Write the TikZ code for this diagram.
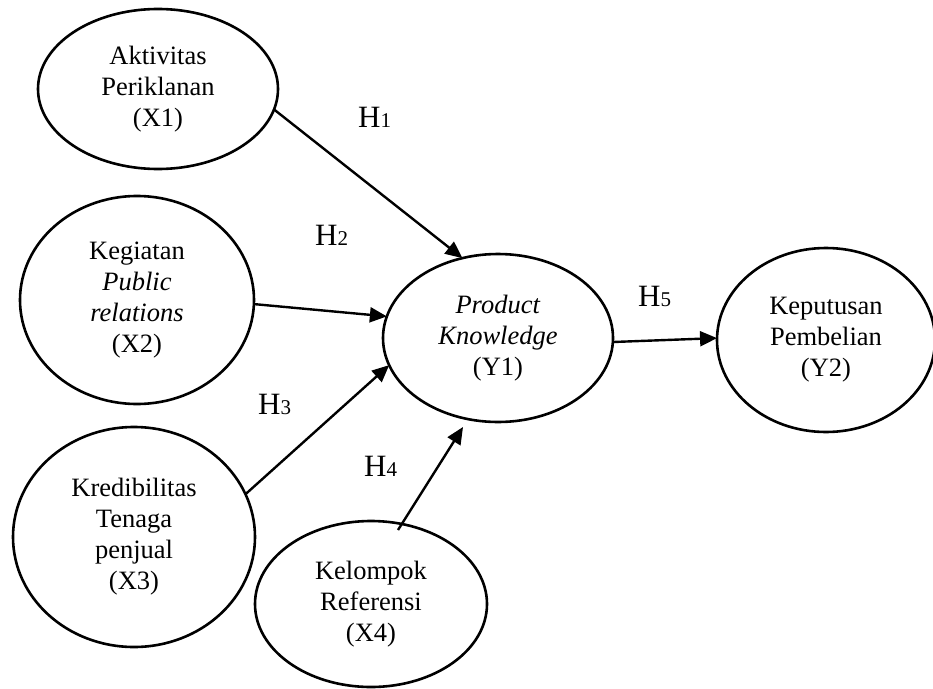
\documentclass[tikz,border=0pt]{standalone}
\usepackage{fontspec}
\setmainfont{Liberation Serif}
\usetikzlibrary{arrows.meta,shapes.geometric}
\begin{document}
\begin{tikzpicture}[x=1pt,y=-1pt,
  var/.style={draw, ellipse, line width=2.6pt, inner sep=0pt, outer sep=0pt,
    align=center, font=\fontsize{26.5}{31}\selectfont},
  link/.style={line width=2.4pt, -{Triangle[length=17pt,width=15pt]}},
  hyp/.style={anchor=base west, inner sep=0pt, font=\fontsize{31}{31}\selectfont}]
\useasboundingbox (0,0) rectangle (933,688);

\node[var, minimum width=240pt, minimum height=160pt] (X1) at (158,89) {Aktivitas\\Periklanan\\(X1)};
\node[var, minimum width=234pt, minimum height=208pt] (X2) at (137,300) {Kegiatan\\\textit{Public}\\\textit{relations}\\(X2)};
\node[var, minimum width=242pt, minimum height=220pt] (X3) at (134,537) {Kredibilitas\\Tenaga\\penjual\\(X3)};
\node[var, minimum width=232pt, minimum height=166pt] (X4) at (371,604) {Kelompok\\Referensi\\(X4)};
\node[var, minimum width=230pt, minimum height=168pt] (Y1) at (498,338) {\textit{Product}\\\textit{Knowledge}\\(Y1)};
\node[var, minimum width=218pt, minimum height=184pt] (Y2) at (826,340) {Keputusan\\Pembelian\\(Y2)};

\coordinate (s4) at ([shift={(27,-74)}]X4.center);
\coordinate (e4) at ([shift={(-35,89)}]Y1.center);

\draw[link] (X1.-10.6) -- (Y1.114.8);
\draw[link] (X2.-2.5) -- (Y1.169.5);
\draw[link] (X3.21.7) -- (Y1.194.9);
\draw[link] (s4) -- (e4);
\draw[link] (Y1.-2.5) -- (Y2.179.5);

\node[hyp] (h1) at (358,127) {H{\fontsize{21}{21}\selectfont 1}};
\node[hyp] (h2) at (315,245) {H{\fontsize{21}{21}\selectfont 2}};
\node[hyp] (h3) at (258,414) {H{\fontsize{21}{21}\selectfont 3}};
\node[hyp] (h4) at (364,476) {H{\fontsize{21}{21}\selectfont 4}};
\node[hyp] (h5) at (638,306) {H{\fontsize{21}{21}\selectfont 5}};
\end{tikzpicture}
\end{document}
